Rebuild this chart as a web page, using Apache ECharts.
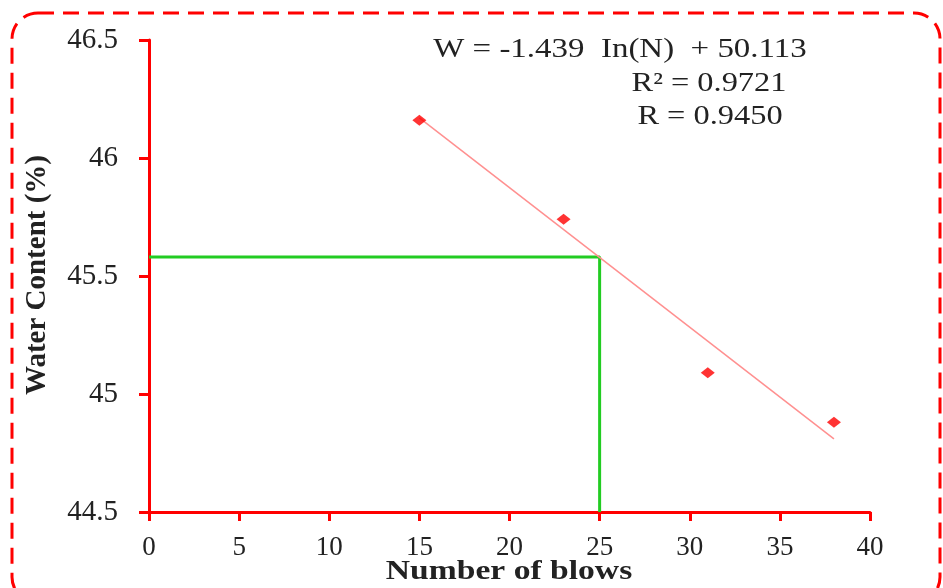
<!DOCTYPE html>
<html><head><meta charset="utf-8">
<script src="https://cdn.jsdelivr.net/npm/echarts@6/dist/echarts.min.js"></script>
<style>html,body{margin:0;padding:0;background:#fff}#c{width:943px;height:588px}</style>
</head><body><div id="c"></div>
<script>
const blows = [15, 23, 31, 38];
const waterContent = [46.16, 45.74, 45.09, 44.88];
const trendX = [15, 38];
const trendY = [46.17, 44.81];
const guideX = [0, 25, 25];
const guideY = [45.58, 45.58, 44.5];
const eqLines = ['W = -1.439  In(N)  + 50.113', 'R² = 0.9721', 'R = 0.9450'];
const xTitle = 'Number of blows';
const yTitle = 'Water Content (%)';

const chart = echarts.init(document.getElementById('c'));
const font = '"Liberation Serif", "Times New Roman", serif';
const txt = (t, x, y, sx) => ({ type: 'text', x: x, y: y, scaleX: sx, silent: true,
  style: { text: t, font: '27px ' + font, fill: '#222', textAlign: 'center', textVerticalAlign: 'middle' } });
chart.setOption({
  animation: false,
  backgroundColor: '#fff',
  grid: { left: 149, right: 73, top: 40, bottom: 76 },
  xAxis: {
    type: 'value', min: 0, max: 40, interval: 5,
    axisLine: { lineStyle: { color: '#ff0000', width: 3 } },
    axisTick: { length: 9, lineStyle: { color: '#ff0000', width: 3 } },
    axisLabel: { fontFamily: font, fontSize: 27, color: '#222', margin: 22 },
    splitLine: { show: false }
  },
  yAxis: {
    type: 'value', min: 44.5, max: 46.5, interval: 0.5,
    axisLine: { show: true, lineStyle: { color: '#ff0000', width: 3 } },
    axisTick: { show: true, length: 10, lineStyle: { color: '#ff0000', width: 3 } },
    axisLabel: { fontFamily: font, fontSize: 29, color: '#222', margin: 31 },
    splitLine: { show: false }
  },
  graphic: [
    { type: 'rect', silent: true, shape: { x: 12, y: 13, width: 928, height: 590, r: 26 },
      style: { fill: 'none', stroke: '#ff0000', lineWidth: 3, lineDash: [16, 9] } },
    txt(eqLines[0], 620, 50, 1.22),
    txt(eqLines[1], 709, 84, 1.2),
    txt(eqLines[2], 710, 117, 1.2),
    { type: 'text', x: 509, y: 572, scaleX: 1.2, silent: true,
      style: { text: xTitle, font: 'bold 28px ' + font, fill: '#222', textAlign: 'center', textVerticalAlign: 'middle' } },
    { type: 'text', x: 38, y: 275, rotation: Math.PI / 2, silent: true,
      style: { text: yTitle, font: 'bold 29px ' + font, fill: '#222', textAlign: 'center', textVerticalAlign: 'middle' } }
  ],
  series: [
    { type: 'line', data: guideX.map((x, i) => [x, guideY[i]]), symbol: 'none',
      lineStyle: { color: '#22cc22', width: 3 }, z: 2 },
    { type: 'line', data: trendX.map((x, i) => [x, trendY[i]]), symbol: 'none',
      lineStyle: { color: '#ff9090', width: 1.5 }, z: 3 },
    { type: 'scatter', data: blows.map((x, i) => [x, waterContent[i]]), symbol: 'diamond',
      symbolSize: [14, 11], itemStyle: { color: '#ff0000' }, z: 4 }
  ]
});
</script></body></html>
